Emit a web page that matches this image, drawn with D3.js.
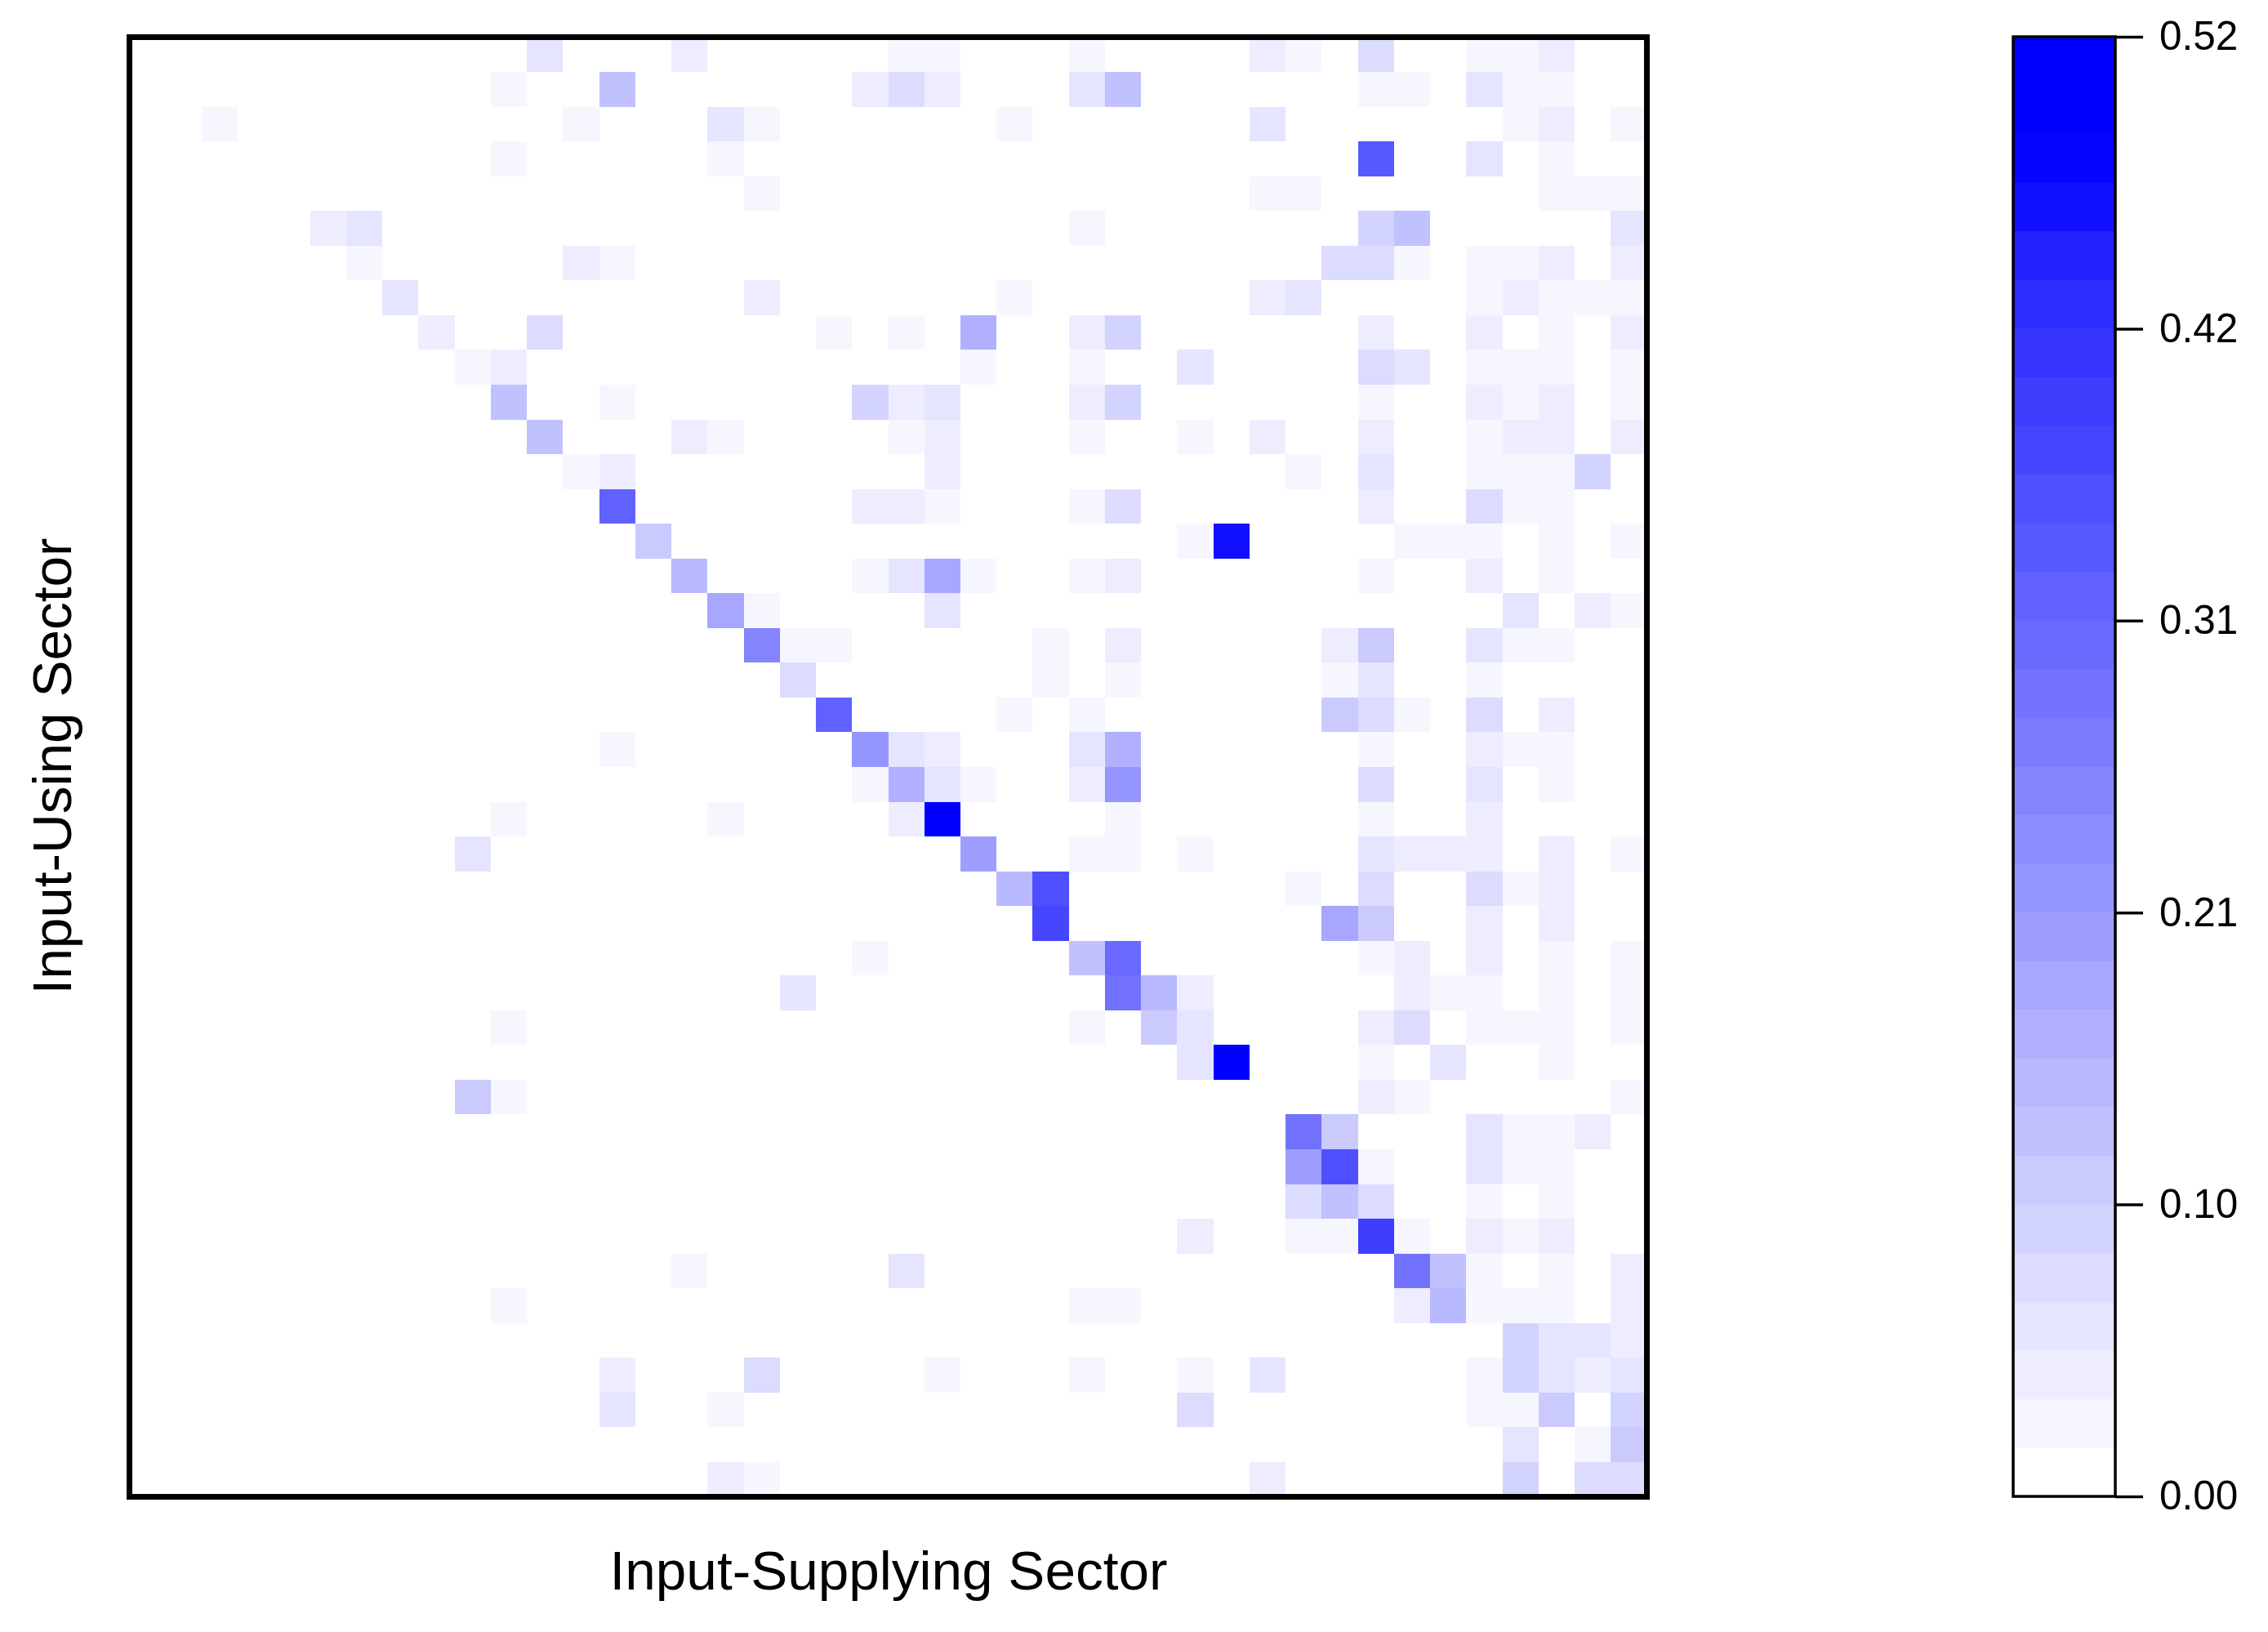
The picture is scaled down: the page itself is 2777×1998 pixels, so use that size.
<!DOCTYPE html>
<html>
<head>
<meta charset="utf-8">
<script src="https://cdn.jsdelivr.net/npm/d3@7"></script>
<style>
  html, body { margin: 0; padding: 0; background: #fff; }
  svg { display: block; }
  text { font-family: "Liberation Sans", Arial, sans-serif; fill: #000; }
</style>
</head>
<body>
<svg id="chart"></svg>
<script>
var width = 2777,
    height = 1998;

var xTitle = "Input-Supplying Sector",
    yTitle = "Input-Using Sector";

var sectorCount = 42;
var colorLevels = 30;
var valueMax = 0.52;
var tickValues = [0, 0.104, 0.208, 0.312, 0.416, 0.52];

// one list per input-using sector (top to bottom): [supplying sector, value]
var usingRows = [
  [[11,.061],[15,.043],[21,.026],[22,.026],[26,.026],[31,.043],[32,.026],[34,.078],[37,.026],[38,.026],[39,.043]],
  [[10,.026],[13,.13],[20,.043],[21,.078],[22,.043],[26,.061],[27,.13],[34,.026],[35,.026],[37,.061],[38,.026],[39,.026]],
  [[2,.026],[12,.026],[16,.061],[17,.026],[24,.026],[31,.061],[38,.026],[39,.043],[41,.026]],
  [[10,.026],[16,.026],[34,.338],[37,.061],[39,.026]],
  [[17,.026],[31,.026],[32,.026],[39,.026],[40,.026],[41,.026]],
  [[5,.043],[6,.061],[26,.026],[34,.095],[35,.13],[41,.061]],
  [[6,.026],[12,.043],[13,.026],[33,.078],[34,.078],[35,.026],[37,.026],[38,.026],[39,.043],[41,.043]],
  [[7,.061],[17,.043],[24,.026],[31,.043],[32,.061],[37,.026],[38,.043],[39,.026],[40,.026],[41,.026]],
  [[8,.043],[11,.078],[19,.026],[21,.026],[23,.165],[26,.043],[27,.095],[34,.043],[37,.043],[39,.026],[41,.043]],
  [[9,.026],[10,.043],[23,.026],[26,.026],[29,.061],[34,.078],[35,.061],[37,.026],[38,.026],[39,.026],[41,.026]],
  [[10,.13],[13,.026],[20,.095],[21,.043],[22,.061],[26,.043],[27,.095],[34,.026],[37,.043],[38,.026],[39,.043],[41,.026]],
  [[11,.13],[15,.043],[16,.026],[21,.026],[22,.043],[26,.026],[29,.026],[31,.043],[34,.043],[37,.026],[38,.043],[39,.043],[41,.043]],
  [[12,.026],[13,.043],[22,.043],[32,.026],[34,.061],[37,.026],[38,.026],[39,.026],[40,.095]],
  [[13,.321],[20,.043],[21,.043],[22,.026],[26,.026],[27,.078],[34,.043],[37,.078],[38,.026],[39,.026]],
  [[14,.113],[29,.026],[30,.459],[35,.026],[36,.026],[37,.026],[39,.026],[41,.026]],
  [[15,.147],[20,.026],[21,.061],[22,.182],[23,.026],[26,.026],[27,.043],[34,.026],[37,.043],[39,.026]],
  [[16,.182],[17,.026],[22,.061],[38,.061],[40,.043],[41,.026]],
  [[17,.251],[18,.026],[19,.026],[25,.026],[27,.043],[33,.043],[34,.113],[37,.061],[38,.026],[39,.026]],
  [[18,.078],[25,.026],[27,.026],[33,.026],[34,.061],[37,.026]],
  [[19,.321],[24,.026],[26,.026],[33,.113],[34,.078],[35,.026],[37,.078],[39,.043]],
  [[13,.026],[20,.217],[21,.061],[22,.043],[26,.061],[27,.165],[34,.026],[37,.043],[38,.026],[39,.026]],
  [[20,.026],[21,.165],[22,.061],[23,.026],[26,.043],[27,.217],[34,.078],[37,.061],[39,.026]],
  [[10,.026],[16,.026],[21,.043],[22,.511],[27,.026],[34,.026],[37,.043]],
  [[9,.061],[23,.199],[26,.026],[27,.026],[29,.026],[34,.061],[35,.043],[36,.043],[37,.043],[39,.043],[41,.026]],
  [[24,.147],[25,.355],[32,.026],[34,.078],[37,.078],[38,.026],[39,.043]],
  [[25,.373],[33,.182],[34,.113],[37,.043],[39,.043]],
  [[20,.026],[26,.13],[27,.303],[34,.026],[35,.043],[37,.043],[39,.026],[41,.026]],
  [[18,.061],[27,.286],[28,.147],[29,.043],[35,.043],[36,.026],[37,.026],[39,.026],[41,.026]],
  [[10,.026],[26,.026],[28,.113],[29,.061],[34,.043],[35,.078],[37,.026],[38,.026],[39,.026],[41,.026]],
  [[29,.061],[30,.511],[34,.026],[36,.061],[39,.026]],
  [[9,.113],[10,.026],[34,.043],[35,.026],[41,.026]],
  [[32,.286],[33,.113],[37,.061],[38,.026],[39,.026],[40,.043]],
  [[32,.199],[33,.355],[34,.026],[37,.061],[38,.026],[39,.026]],
  [[32,.078],[33,.13],[34,.078],[37,.026],[39,.026]],
  [[29,.043],[32,.026],[33,.026],[34,.39],[35,.026],[37,.043],[38,.026],[39,.043]],
  [[15,.026],[21,.061],[35,.286],[36,.13],[37,.026],[39,.026],[41,.043]],
  [[10,.026],[26,.026],[27,.026],[35,.043],[36,.147],[37,.026],[38,.026],[39,.026],[41,.043]],
  [[38,.095],[39,.061],[40,.061],[41,.043]],
  [[13,.043],[17,.078],[22,.026],[26,.026],[29,.026],[31,.061],[37,.026],[38,.095],[39,.061],[40,.043],[41,.061]],
  [[13,.061],[16,.026],[29,.078],[37,.026],[38,.026],[39,.113],[41,.095]],
  [[38,.061],[40,.026],[41,.113]],
  [[16,.043],[17,.026],[31,.043],[38,.095],[40,.078],[41,.078]]
];

function render_heatmap(){
  var svg = d3.select("#chart")
      .attr("width", width)
      .attr("height", height);

  var plot = {left: 158.5, right: 2016.5, top: 45.5, bottom: 1832.5};
  var bar = {left: 2465, right: 2590};

  var sectors = d3.range(sectorCount);

  var x = d3.scaleBand().domain(sectors).range([plot.left, plot.right]);
  var y = d3.scaleBand().domain(sectors).range([plot.top, plot.bottom]);

  // 30 step white to blue ramp, the darkest steps run out to full blue early
  var levels = d3.quantize(d3.interpolateRgb("#ffffff", "#0000ff"), colorLevels);
  levels[26] = "#1010ff";
  levels[27] = "#0505ff";
  levels[28] = "#0000ff";
  var color = d3.scaleQuantize().domain([0, valueMax]).range(levels);

  // flatten the rows into cells
  var cells = [];
  usingRows.forEach(function(row, r) {
    row.forEach(function(d) { cells.push({row: r, col: d[0], value: d[1]}); });
  });

  svg.append("g")
      .attr("class", "cells")
    .selectAll("rect")
      .data(cells)
    .enter().append("rect")
      .attr("x", function(d) { return x(d.col); })
      .attr("y", function(d) { return y(d.row); })
      .attr("width", x.bandwidth())
      .attr("height", y.bandwidth())
      .attr("shape-rendering", "crispEdges")
      .style("fill", function(d) { return color(d.value); });

  // plot frame
  svg.append("rect")
      .attr("x", plot.left)
      .attr("y", plot.top)
      .attr("width", plot.right - plot.left)
      .attr("height", plot.bottom - plot.top)
      .style("fill", "none")
      .style("stroke", "#000")
      .style("stroke-width", 7);

  // axis titles
  svg.append("text")
      .attr("x", 1088)
      .attr("y", 1946)
      .attr("text-anchor", "middle")
      .style("font-size", "67.5px")
      .text(xTitle);

  svg.append("text")
      .attr("transform", "translate(87,938) rotate(-90)")
      .attr("text-anchor", "middle")
      .style("font-size", "67.5px")
      .text(yTitle);

  // colour bar
  var barScale = d3.scaleLinear().domain([0, valueMax]).range([1832, 45]);
  var barBand = d3.scaleBand().domain(d3.range(colorLevels)).range([1832, 45]);

  svg.append("g")
      .attr("class", "bar")
    .selectAll("rect")
      .data(levels)
    .enter().append("rect")
      .attr("x", bar.left)
      .attr("y", function(d, i) { return barBand(i); })
      .attr("width", bar.right - bar.left)
      .attr("height", barBand.bandwidth())
      .attr("shape-rendering", "crispEdges")
      .style("fill", function(d) { return d; });

  svg.append("rect")
      .attr("x", bar.left)
      .attr("y", 45)
      .attr("width", bar.right - bar.left)
      .attr("height", 1832 - 45)
      .style("fill", "none")
      .style("stroke", "#000")
      .style("stroke-width", 3.5);

  var axis = svg.append("g")
      .attr("transform", "translate(" + bar.right + ",0)")
      .call(d3.axisRight(barScale)
        .tickValues(tickValues)
        .tickFormat(d3.format(".2f"))
        .tickSize(34)
        .tickPadding(20));

  axis.select(".domain").remove();
  axis.selectAll("line").style("stroke", "#000").style("stroke-width", 3.5);
  axis.selectAll("text")
      .style("font-family", "'Liberation Sans', Arial, sans-serif")
      .style("font-size", "49.5px")
      .style("fill", "#000");
}

render_heatmap();
</script>
</body>
</html>
